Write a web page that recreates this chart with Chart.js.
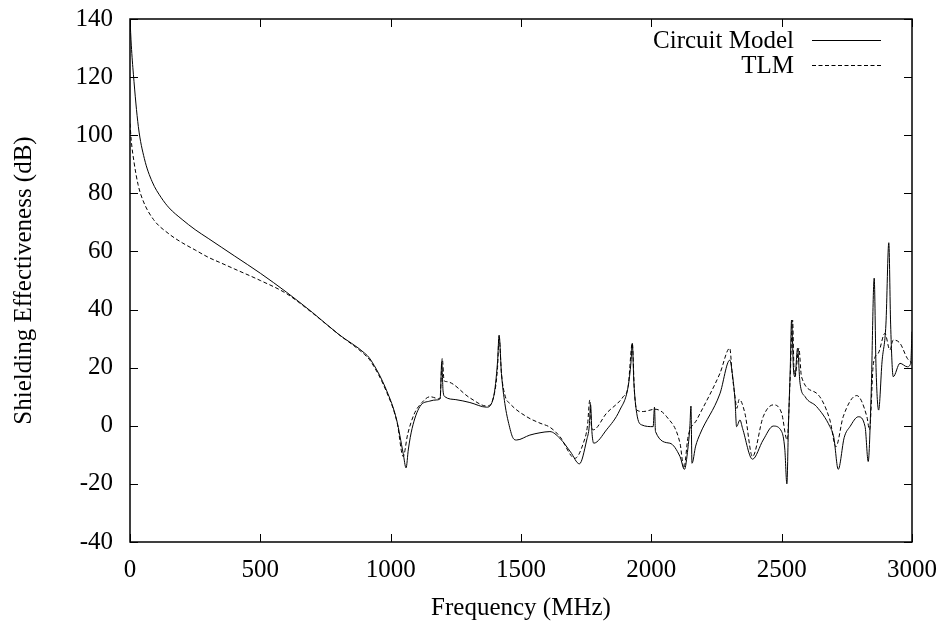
<!DOCTYPE html>
<html>
<head>
<meta charset="utf-8">
<script src="https://cdn.jsdelivr.net/npm/chart.js@4.4.1/dist/chart.umd.min.js"></script>
<style>
  html, body { margin: 0; padding: 0; background: #fff; }
  #wrap { width: 943px; height: 628px; }
</style>
</head>
<body>
<div id="wrap"><canvas id="c" width="943" height="628"></canvas></div>
<script>
// Circuit model (solid), frequency in MHz and SE in dB
const circuitFreq = [0, 5, 13, 32, 55, 85, 120, 150, 200, 250, 300, 350, 400, 500, 600, 700, 800, 900, 921, 985, 1023, 1048, 1059, 1068, 1082, 1112, 1150, 1177, 1190, 1196, 1201, 1208, 1250, 1304, 1368, 1395, 1410, 1416, 1425, 1438, 1455, 1470, 1483, 1534, 1573, 1611, 1649, 1690, 1724, 1752, 1762, 1767, 1772, 1779, 1828, 1879, 1911, 1922, 1927, 1933, 1944, 1963, 2007, 2012, 2016, 2071, 2110, 2127, 2140, 2148, 2152, 2156, 2170, 2186, 2263, 2301, 2312, 2321, 2327, 2340, 2350, 2388, 2429, 2468, 2500, 2512, 2520, 2526, 2533, 2538, 2545, 2551, 2561, 2570, 2590, 2634, 2685, 2700, 2717, 2740, 2762, 2794, 2820, 2832, 2843, 2855, 2862, 2872, 2885, 2900, 2911, 2918, 2928, 2954, 2982, 2995, 3000];
const circuitSE = [140, 131, 121, 103, 92, 84, 78.5, 75, 71, 67.5, 64.5, 61.5, 58.5, 52.5, 46, 39, 31.5, 25, 23, 12, 2, -9.5, -14.5, -8, -1, 6.6, 8.5, 8.9, 9.5, 22, 12, 10, 9, 8, 6.4, 10, 22, 31.2, 18, 7.7, 0, -4.3, -4.9, -3.2, -2.4, -2, -4.3, -9, -13.1, -4.9, 0, 7.2, -2, -6, -1.4, 5.4, 13.5, 22, 28.4, 15, 4.3, 0.3, -0.3, 6.4, -2, -6, -10.6, -15, -8, 0, 6.8, -12.9, -7, -3, 11, 22.6, 17, 8.9, -0.3, 2, -0.9, -11.5, -4.9, -0.1, -2, -8, -20, 0, 20, 36.4, 20, 16.9, 26.7, 15, 10, 6.6, -0.3, -4, -15, -4, -0.3, 3.1, -0.3, -12.3, 10, 50.8, 20, 5.4, 22, 35, 63, 35, 16.9, 21.5, 20.3, 21.5, 32.4];

// TLM (dashed)
const tlmFreq = [0, 5, 15, 31, 50, 90, 150, 200, 250, 300, 350, 400, 500, 600, 700, 800, 900, 921, 985, 1025, 1048, 1065, 1090, 1120, 1151, 1189, 1198, 1205, 1215, 1304, 1368, 1395, 1410, 1416, 1425, 1440, 1457, 1522, 1573, 1611, 1649, 1707, 1739, 1755, 1764, 1770, 1777, 1828, 1892, 1911, 1927, 1935, 1944, 1969, 2014, 2059, 2110, 2125, 2141, 2174, 2263, 2301, 2310, 2321, 2328, 2337, 2359, 2388, 2429, 2468, 2500, 2521, 2532, 2542, 2547, 2551, 2566, 2576, 2634, 2685, 2708, 2736, 2788, 2827, 2837, 2852, 2871, 2896, 2915, 2928, 2954, 2982, 3000];
const tlmSE = [104, 98, 91, 83, 77.5, 71, 66, 63, 60.5, 58, 56, 54, 50, 45.5, 38.8, 31.5, 24.5, 22.5, 11.5, 1, -10.6, -3, 4, 8, 10, 9.2, 23.2, 15.5, 15.2, 9.6, 6.8, 10, 20, 30.7, 18, 10, 7.7, 3.1, 0.9, -0.5, -3.7, -11.2, -6, 0, 8.9, 0, -1.4, 4.3, 10, 13.5, 28.4, 12, 5.4, 4.9, 5.7, 3.1, -6, -14.6, -3.7, 2, 18, 26.7, 18, 10, 6, 9.1, 4.3, -10.6, 3.1, 7.2, 4.3, -4.9, 15, 36.4, 20, 16.9, 26.7, 16.9, 11.2, 2, -7.2, 3.1, 10.4, 3.1, -1.4, 21.5, 25, 31.8, 26.1, 29.5, 28.4, 23.2, 21.5];

const xTicks = [0, 500, 1000, 1500, 2000, 2500, 3000];
const yTicks = [-40, -20, 0, 20, 40, 60, 80, 100, 120, 140];

const serif = '"Liberation Serif", "DejaVu Serif", serif';
const fontSize = 25;

function pts(xs, ys) {
  return xs.map((x, i) => ({ x: x, y: ys[i] }));
}

// frame, inward ticks on all four sides, and the legend
const framePlugin = {
  id: 'frame',
  afterDraw(chart) {
    const ctx = chart.ctx;
    const a = chart.chartArea;
    const xs = chart.scales.x, ys = chart.scales.y;
    ctx.save();
    ctx.strokeStyle = '#000';
    ctx.lineWidth = 1.5;
    ctx.strokeRect(a.left, a.top, a.right - a.left, a.bottom - a.top);
    ctx.lineWidth = 1;
    ctx.beginPath();
    xTicks.forEach(v => {
      const px = Math.round(xs.getPixelForValue(v)) + 0.5;
      ctx.moveTo(px, a.bottom); ctx.lineTo(px, a.bottom - 8);
      ctx.moveTo(px, a.top); ctx.lineTo(px, a.top + 8);
    });
    yTicks.forEach(v => {
      const py = Math.round(ys.getPixelForValue(v)) + 0.5;
      ctx.moveTo(a.left, py); ctx.lineTo(a.left + 8, py);
      ctx.moveTo(a.right, py); ctx.lineTo(a.right - 8, py);
    });
    ctx.stroke();

    // legend
    ctx.font = fontSize + 'px ' + serif;
    ctx.fillStyle = '#000';
    ctx.textAlign = 'right';
    ctx.textBaseline = 'middle';
    ctx.fillText('Circuit Model', 794, 41);
    ctx.fillText('TLM', 794, 66);
    ctx.beginPath();
    ctx.moveTo(812, 40.5); ctx.lineTo(881, 40.5);
    ctx.stroke();
    ctx.setLineDash([4, 2.5]);
    ctx.beginPath();
    ctx.moveTo(812, 65.5); ctx.lineTo(881, 65.5);
    ctx.stroke();
    ctx.restore();
  }
};

new Chart(document.getElementById('c'), {
  type: 'line',
  data: {
    datasets: [
      {
        label: 'Circuit Model',
        data: pts(circuitFreq, circuitSE),
        borderColor: '#000',
        borderWidth: 1,
        pointRadius: 0,
        fill: false,
        cubicInterpolationMode: 'monotone'
      },
      {
        label: 'TLM',
        data: pts(tlmFreq, tlmSE),
        borderColor: '#000',
        borderWidth: 1,
        borderDash: [4, 2.5],
        pointRadius: 0,
        fill: false,
        cubicInterpolationMode: 'monotone'
      }
    ]
  },
  options: {
    responsive: false,
    animation: false,
    layout: { padding: { top: 19, right: 31, left: 5, bottom: 0 } },
    plugins: { legend: { display: false }, tooltip: { enabled: false } },
    scales: {
      x: {
        type: 'linear', min: 0, max: 3000,
        afterBuildTicks: s => { s.ticks = xTicks.map(v => ({ value: v })); },
        afterFit: s => { s.height = 86; s.paddingLeft = 0; s.paddingRight = 0; },
        grid: { display: false, drawTicks: false },
        border: { display: false },
        ticks: { color: '#000', font: { family: serif, size: fontSize }, padding: 13, maxRotation: 0, callback: v => String(v) },
        title: { display: true, text: 'Frequency (MHz)', color: '#000', font: { family: serif, size: fontSize }, padding: { top: 0, bottom: 5 } }
      },
      y: {
        min: -40, max: 140,
        afterBuildTicks: s => { s.ticks = yTicks.map(v => ({ value: v })); },
        afterFit: s => { s.width = 125; s.paddingTop = 0; s.paddingBottom = 0; },
        grid: { display: false, drawTicks: false },
        border: { display: false },
        ticks: { color: '#000', font: { family: serif, size: fontSize }, padding: 17, callback: v => String(v) },
        title: { display: true, text: 'Shielding Effectiveness (dB)', color: '#000', font: { family: serif, size: fontSize }, padding: { bottom: 0 } }
      }
    }
  },
  plugins: [framePlugin]
});
</script>
</body>
</html>
